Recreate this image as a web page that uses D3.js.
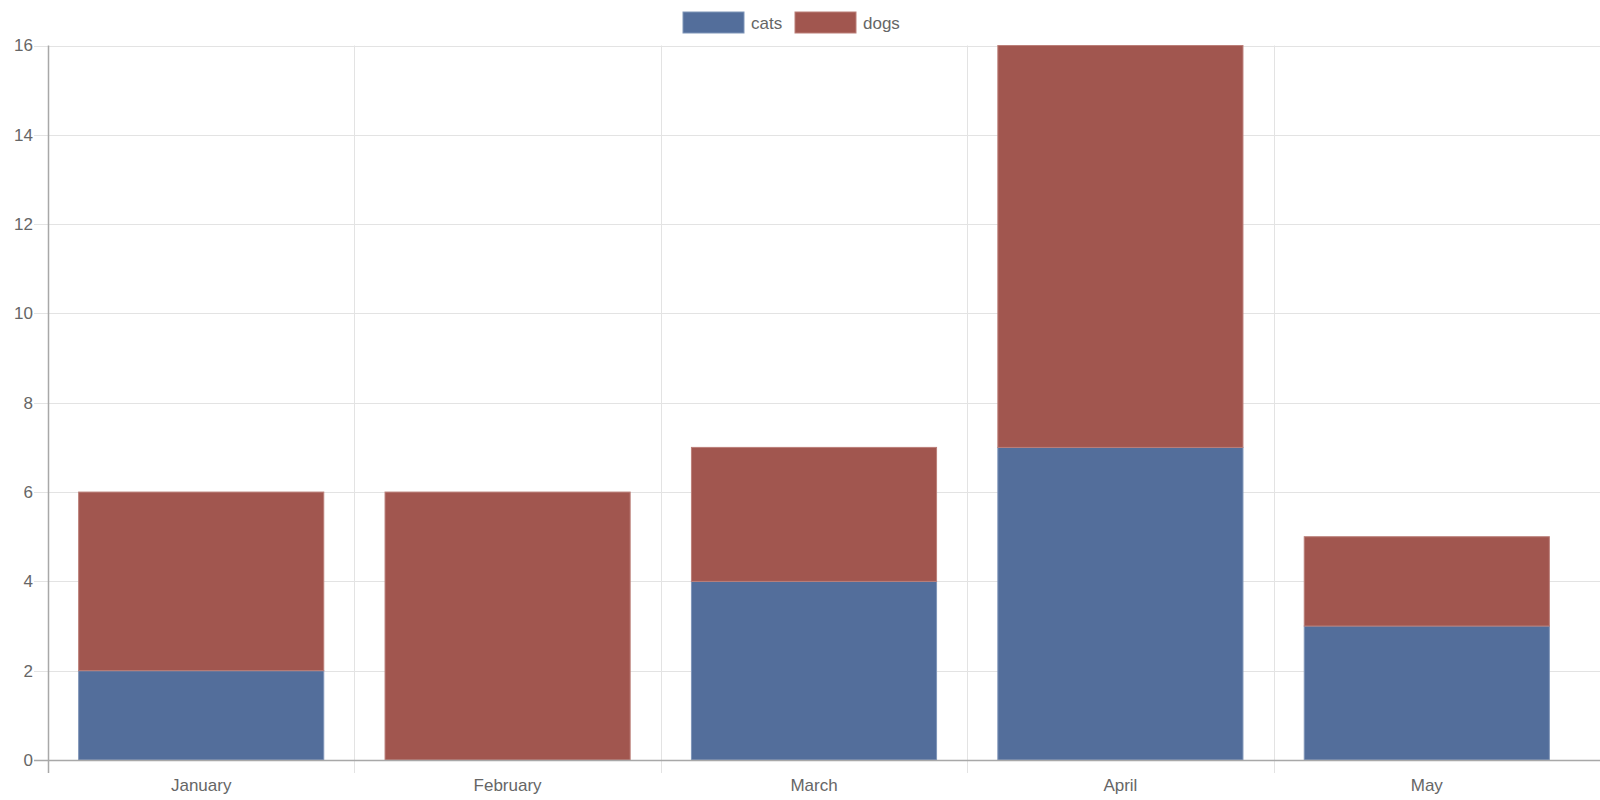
<!DOCTYPE html>
<html>
<head>
<meta charset="utf-8">
<script src="https://cdn.jsdelivr.net/npm/d3@7"></script>
<style>
  html, body { margin: 0; padding: 0; background: #fff; }
  svg { display: block; font-family: "Liberation Sans", Arial, Helvetica, sans-serif; }
</style>
</head>
<body>
<svg id="chart" width="1600" height="800"></svg>
<script>
const categories = ["January", "February", "March", "April", "May"];
const seriesNames = ["cats", "dogs"];
const cats = [2, 0, 4, 7, 3];
const dogs = [4, 6, 3, 9, 2];
const yTicks = [0, 2, 4, 6, 8, 10, 12, 14, 16];
const colors = ["#536e9b", "#a1564f"];
const borderColors = ["#7f95b8", "#bb7f79"];

(function () {
const svg = d3.select("#chart");
const plotLeft = 48, plotRight = 1580, plotTop = 45.5, plotBottom = 760;
const fontSize = 17;

const x = d3.scaleBand().domain(categories).range([plotLeft, plotRight]).paddingInner(0).paddingOuter(0);
const y = d3.scaleLinear().domain([0, 16]).range([plotBottom, plotTop]);

// horizontal gridlines
svg.append("g").selectAll("line").data(yTicks).join("line")
  .attr("x1", plotLeft - 14).attr("x2", 1600)
  .attr("y1", d => Math.round(y(d)) + 0.5).attr("y2", d => Math.round(y(d)) + 0.5)
  .attr("stroke", "#e3e3e3").attr("stroke-width", 1);

// vertical gridlines
const vx = categories.map(c => x(c));
svg.append("g").selectAll("line").data(vx.slice(1)).join("line")
  .attr("x1", d => Math.round(d) + 0.5).attr("x2", d => Math.round(d) + 0.5)
  .attr("y1", plotTop).attr("y2", plotBottom + 13)
  .attr("stroke", "#e3e3e3").attr("stroke-width", 1);

// stacked bars
const data = categories.map((c, i) => ({ cat: c, cats: cats[i], dogs: dogs[i] }));
const stacked = d3.stack().keys(seriesNames)(data);
const bw = x.bandwidth() * 0.8;
stacked.forEach((layer, si) => {
  svg.append("g").selectAll("rect").data(layer.filter(d => d[1] - d[0] > 0)).join("rect")
    .attr("x", d => x(d.data.cat) + (x.bandwidth() - bw) / 2)
    .attr("width", bw)
    .attr("y", d => y(d[1]))
    .attr("height", d => Math.max(0, y(d[0]) - y(d[1])))
    .attr("fill", colors[si])
    .attr("stroke", borderColors[si])
    .attr("stroke-width", 1);
});

// y axis line
svg.append("line").attr("x1", plotLeft + 0.5).attr("x2", plotLeft + 0.5)
  .attr("y1", plotTop).attr("y2", plotBottom + 13)
  .attr("stroke", "#a8a8a8").attr("stroke-width", 1.5);
// x axis line
svg.append("line").attr("x1", plotLeft - 14).attr("x2", 1600)
  .attr("y1", plotBottom + 0.5).attr("y2", plotBottom + 0.5)
  .attr("stroke", "#a8a8a8").attr("stroke-width", 1.5);

// y tick labels
svg.append("g").selectAll("text").data(yTicks).join("text")
  .attr("x", 33).attr("y", d => y(d))
  .attr("dy", "0.35em")
  .attr("text-anchor", "end")
  .attr("font-size", fontSize)
  .attr("fill", "#666")
  .text(d => d);

// x tick labels
svg.append("g").selectAll("text").data(categories).join("text")
  .attr("x", d => x(d) + x.bandwidth() / 2).attr("y", 785)
  .attr("dy", "0.35em")
  .attr("text-anchor", "middle")
  .attr("font-size", fontSize)
  .attr("fill", "#666")
  .text(d => d);

// legend
const legendItems = [
  { name: seriesNames[0], color: colors[0], border: borderColors[0], bx: 683, tx: 751 },
  { name: seriesNames[1], color: colors[1], border: borderColors[1], bx: 795, tx: 863 }
];
const lg = svg.append("g");
legendItems.forEach(it => {
  lg.append("rect").attr("x", it.bx).attr("y", 12).attr("width", 61).attr("height", 21)
    .attr("fill", it.color).attr("stroke", it.border).attr("stroke-width", 1);
  lg.append("text").attr("x", it.tx).attr("y", 23).attr("dy", "0.35em")
    .attr("font-size", fontSize).attr("fill", "#666").text(it.name);
});
})();
</script>
</body>
</html>
